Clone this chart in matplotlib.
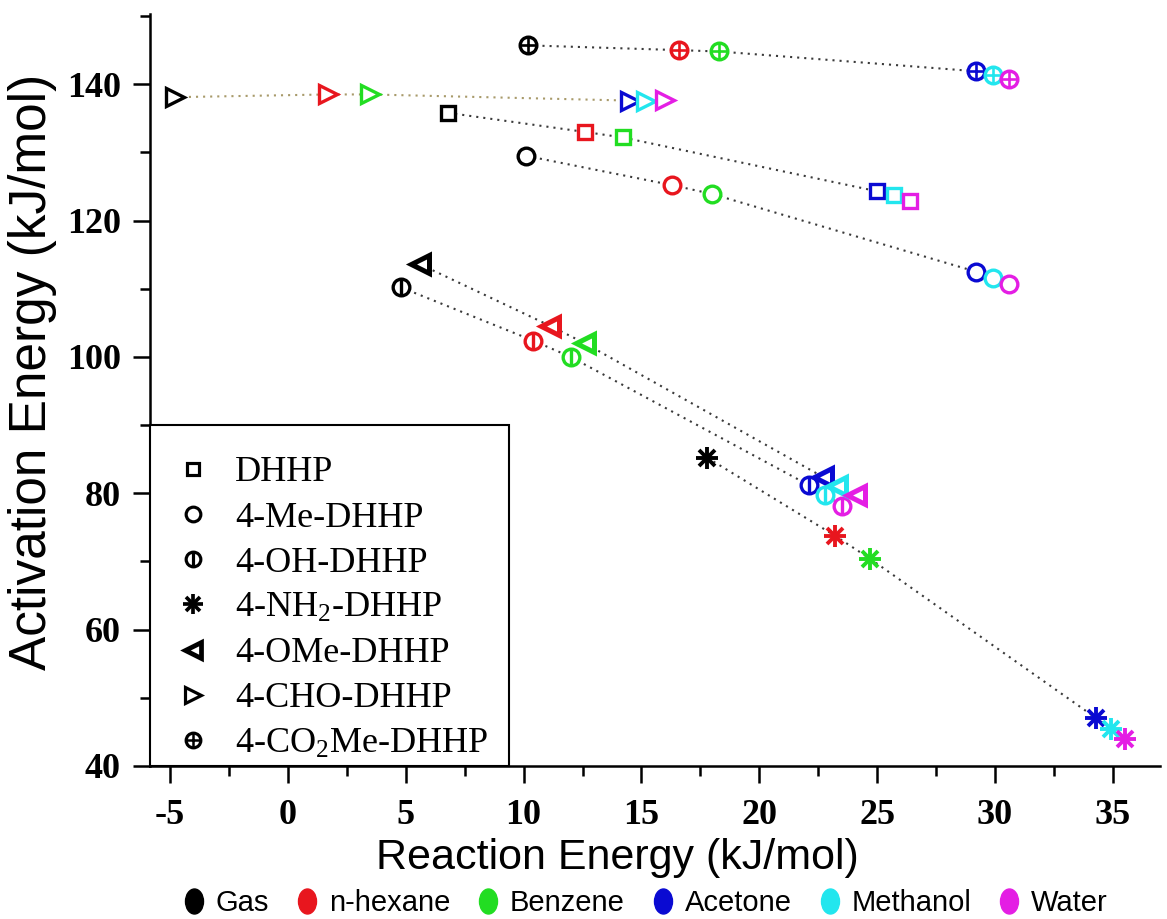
import matplotlib
matplotlib.use("Agg")
import matplotlib.pyplot as plt
from matplotlib.lines import Line2D
from matplotlib.path import Path
from matplotlib.transforms import Affine2D
from matplotlib.ticker import MultipleLocator

# ---------------- data ----------------
solvents = ['Gas', 'n-hexane', 'Benzene', 'Acetone', 'Methanol', 'Water']
solvent_colors = ['#000000', '#e8161e', '#22dd22', '#0a0ad2', '#22e6ee', '#e41ee4']

compounds = ['DHHP', '4-Me-DHHP', '4-OH-DHHP', '4-NH$_2$-DHHP',
             '4-OMe-DHHP', '4-CHO-DHHP', '4-CO$_2$Me-DHHP']

dhhp_x = [6.8, 12.6, 14.2, 25.0, 25.7, 26.4]
dhhp_y = [135.8, 133.0, 132.2, 124.3, 123.7, 122.9]

me_x = [10.1, 16.3, 18.0, 29.2, 29.9, 30.6]
me_y = [129.5, 125.2, 123.9, 112.5, 111.6, 110.7]

oh_x = [4.8, 10.4, 12.0, 22.1, 22.8, 23.5]
oh_y = [110.2, 102.4, 100.0, 81.2, 79.8, 78.2]

nh2_x = [17.8, 23.2, 24.7, 34.3, 34.9, 35.5]
nh2_y = [85.2, 73.8, 70.4, 47.0, 45.5, 44.0]

ome_x = [5.6, 11.1, 12.6, 22.7, 23.3, 24.1]
ome_y = [113.6, 104.6, 102.0, 82.4, 81.0, 79.8]

cho_x = [-4.8, 1.7, 3.5, 14.5, 15.2, 16.0]
cho_y = [138.1, 138.5, 138.5, 137.6, 137.6, 137.7]

co2me_x = [10.2, 16.6, 18.3, 29.2, 29.9, 30.6]
co2me_y = [145.7, 145.0, 144.8, 141.9, 141.3, 140.8]

x_ticks = [-5, 0, 5, 10, 15, 20, 25, 30, 35]
y_ticks = [40, 60, 80, 100, 120, 140]

# ---------------- styling ----------------
plt.rcParams['axes.unicode_minus'] = False
plt.rcParams['mathtext.fontset'] = 'custom'
plt.rcParams['mathtext.rm'] = 'Liberation Serif'
plt.rcParams['mathtext.it'] = 'Liberation Serif:italic'
plt.rcParams['mathtext.bf'] = 'Liberation Serif:bold'

fig = plt.figure(figsize=(11.67, 9.19), dpi=100)
ax = fig.add_axes([150 / 1167, 1 - 766 / 919, 1010 / 1167, (766 - 14) / 919])

# marker specs: list of (marker, size, edgewidth) layers
series = [
    (dhhp_x, dhhp_y, [('s', 10.5, 2.4)], '#3a3a3a'),
    (me_x, me_y, [('o', 12, 2.4)], '#3a3a3a'),
    (oh_x, oh_y, [('o', 12, 2.4), ('|', 12, 2.4)], '#3a3a3a'),
    (nh2_x, nh2_y, [('+', 16, 2.8), ('x', 12, 2.8)], '#3a3a3a'),
    (ome_x, ome_y, [('<', 13, 3.6)], '#3a3a3a'),
    (cho_x, cho_y, [('>', 13, 2.4)], '#a89a6a'),
    (co2me_x, co2me_y, [('o', 12, 2.4), ('+', 12, 1.9)], '#3a3a3a'),
]

legend_handles = []
for xs, ys, layers, lcol in series:
    ax.plot(xs, ys, linestyle=(0, (1, 2.4)), color=lcol, lw=1.5, zorder=1)
    for xi, yi, c in zip(xs, ys, solvent_colors):
        for m, s, ew in layers:
            ax.plot([xi], [yi], linestyle='none', marker=m, ms=s,
                    mec=c, mfc='white' if m in ('o', 's', '<', '>') else c,
                    mew=ew, zorder=3)
    hand = tuple(Line2D([], [], linestyle='none', marker=m, ms=s * 0.88,
                        mec='black', mfc='white' if m in ('o', 's', '<', '>') else 'black',
                        mew=ew * 0.95) for m, s, ew in layers)
    legend_handles.append(hand)

ax.set_xlim(-5.85, 37.0)
ax.set_ylim(40, 150.3)
ax.set_xticks(x_ticks)
ax.set_yticks(y_ticks)
ax.xaxis.set_minor_locator(MultipleLocator(2.5))
ax.yaxis.set_minor_locator(MultipleLocator(10))

for side in ('top', 'right'):
    ax.spines[side].set_visible(False)
for side in ('left', 'bottom'):
    ax.spines[side].set_linewidth(1.8)

ax.tick_params(which='major', direction='out', length=12, width=1.8, pad=9)
ax.tick_params(which='minor', direction='out', length=7, width=1.8)
ax.tick_params(axis='x', which='major', pad=12)
for lab in ax.get_xticklabels() + ax.get_yticklabels():
    lab.set_fontfamily('Liberation Serif')
    lab.set_fontweight('bold')
    lab.set_fontsize(26)

label_font = ['Liberation Sans Narrow', 'Liberation Sans', 'DejaVu Sans']
ax.set_xlabel('Reaction Energy (kJ/mol)', family=label_font, fontsize=31, labelpad=8)
ax.xaxis.set_label_coords((617 - 150) / 1010, -(842 - 766 - 4) / 752, )
ax.xaxis.label.set_verticalalignment('top')
ax.set_ylabel('Activation Energy (kJ/mol)', family=label_font, fontsize=37)
ax.yaxis.set_label_coords((57 - 150) / 1010, (766 - 372) / 752)

leg = ax.legend(legend_handles, compounds, loc='lower left',
                bbox_to_anchor=(0, 0, 359 / 1010, (766 - 424) / 752), mode='expand',
                borderaxespad=0, frameon=True, fancybox=False, edgecolor='black',
                framealpha=1, prop={'family': 'Liberation Serif', 'size': 26},
                handlelength=2.1, handletextpad=0.1, labelspacing=0.33,
                borderpad=0.15, title=' ', title_fontsize=10)
leg.get_frame().set_linewidth(1.5)
leg.set_zorder(5)

# bottom solvent legend with elliptical dots
ellipse = Path.unit_circle().transformed(Affine2D().scale(0.72, 1.0))
sol_handles = [Line2D([], [], linestyle='none', marker=ellipse, ms=18, mfc=c, mec=c)
               for c in solvent_colors]
fig.legend(sol_handles, solvents, loc='center', bbox_to_anchor=(645 / 1167, 1 - 903 / 919),
           ncol=6, frameon=False, prop={'family': label_font, 'size': 21},
           handlelength=0.8, handletextpad=0.35, columnspacing=0.9)

fig.savefig('out.png', dpi=100)
